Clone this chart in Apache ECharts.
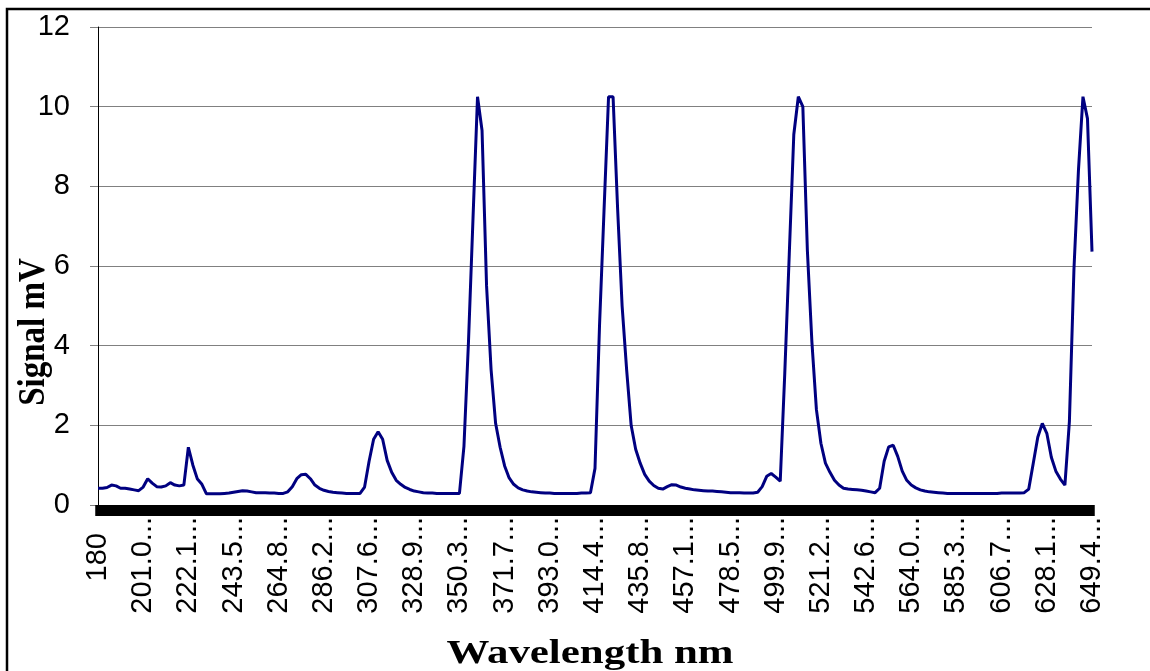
<!DOCTYPE html>
<html>
<head>
<meta charset="utf-8">
<script src="https://cdn.jsdelivr.net/npm/echarts@6/dist/echarts.min.js"></script>
<style>
html,body{margin:0;padding:0;background:#fff;}
#chart{width:1150px;height:671px;}
</style>
</head>
<body>
<div id="chart"></div>
<script>
// Tick labels shown every 10th sample along the wavelength axis (nm)
var tickLabels = ["180","201.0","222.1","243.5","264.8","286.2","307.6","328.9","350.3","371.7","393.0","414.4","435.8","457.1","478.5","499.9","521.2","542.6","564.0","585.3","606.7","628.1","649.4"];
var samplesPerLabel = 10;

// Signal (mV), one value per sample
var signal = [
0.42,0.42,0.44,0.50,0.48,0.42,0.42,0.40,0.38,0.36,
0.45,0.66,0.55,0.46,0.45,0.48,0.56,0.50,0.48,0.50,
1.45,1.00,0.65,0.52,0.28,0.28,0.28,0.28,0.29,0.30,
0.32,0.34,0.36,0.35,0.33,0.31,0.31,0.31,0.30,0.30,
0.29,0.29,0.33,0.46,0.66,0.76,0.77,0.66,0.50,0.42,
0.37,0.34,0.32,0.31,0.30,0.29,0.29,0.29,0.29,0.45,
1.10,1.65,1.84,1.65,1.12,0.82,0.62,0.52,0.44,0.39,
0.35,0.33,0.31,0.30,0.30,0.29,0.29,0.29,0.29,0.29,
0.29,1.48,4.10,7.20,10.25,9.40,5.50,3.40,2.05,1.45,
0.98,0.68,0.52,0.43,0.38,0.35,0.33,0.32,0.31,0.30,
0.30,0.29,0.29,0.29,0.29,0.29,0.29,0.30,0.30,0.31,
0.92,4.50,7.40,10.25,10.25,7.45,5.00,3.40,2.00,1.40,
1.05,0.77,0.60,0.49,0.42,0.40,0.46,0.51,0.50,0.45,
0.42,0.40,0.38,0.37,0.36,0.35,0.35,0.34,0.33,0.32,
0.31,0.31,0.31,0.30,0.30,0.30,0.32,0.46,0.72,0.79,
0.70,0.60,3.30,6.30,9.30,10.25,10.00,6.40,4.10,2.40,
1.55,1.05,0.82,0.62,0.50,0.42,0.40,0.39,0.38,0.37,
0.35,0.33,0.31,0.42,1.10,1.46,1.50,1.22,0.85,0.62,
0.50,0.43,0.38,0.35,0.33,0.32,0.31,0.30,0.29,0.29,
0.29,0.29,0.29,0.29,0.29,0.29,0.29,0.29,0.29,0.29,
0.30,0.30,0.30,0.30,0.30,0.31,0.40,1.05,1.70,2.05,
1.80,1.20,0.85,0.65,0.50,2.10,5.90,8.40,10.25,9.70,
6.36
];

var yTicks = [0, 2, 4, 6, 8, 10, 12];

var categories = signal.map(function (v, i) { return String(i); });

var chart = echarts.init(document.getElementById('chart'), null, {renderer: 'canvas'});
chart.setOption({
  animation: false,
  backgroundColor: '#ffffff',
  grid: {left: 98, right: 58, top: 27, bottom: 166, containLabel: false},
  xAxis: {
    type: 'category',
    data: categories,
    boundaryGap: false,
    axisLine: {show: true, lineStyle: {color: '#000', width: 1}},
    axisTick: {show: true, interval: 0, inside: false, length: 11, lineStyle: {color: '#000', width: 5.5}},
    axisLabel: {
      interval: samplesPerLabel - 1,
      rotate: 90,
      margin: 12,
      fontFamily: 'Liberation Sans, Arial, sans-serif',
      fontSize: 29,
      color: '#000',
      formatter: function (v, idx) {
        var k = Math.round(idx / samplesPerLabel);
        var t = tickLabels[k];
        return k === 0 ? t + '\u00a0\u00a0' : t + '...';
      }
    },
    splitLine: {show: false}
  },
  yAxis: {
    type: 'value',
    min: yTicks[0],
    max: yTicks[yTicks.length - 1],
    interval: 2,
    axisLine: {show: true, lineStyle: {color: '#000', width: 1}},
    axisTick: {show: true, length: 8, lineStyle: {color: '#808080', width: 1}},
    axisLabel: {margin: 28, fontFamily: 'Liberation Sans, Arial, sans-serif', fontSize: 29, color: '#000'},
    splitLine: {show: true, lineStyle: {color: '#808080', width: 1}}
  },
  series: [{
    type: 'line',
    data: signal,
    showSymbol: false,
    symbol: 'none',
    lineStyle: {color: '#000080', width: 3},
    z: 3
  }],
  graphic: [
    {type: 'rect', shape: {x: 7, y: 9, width: 1300, height: 800}, style: {fill: 'none', stroke: '#000', lineWidth: 2.5}, z: 10, silent: true},
    {type: 'text', x: 34, y: 332, rotation: Math.PI / 2, scaleY: 1.15,
     style: {text: 'Signal mV', font: 'bold 33px "Liberation Serif", "Times New Roman", serif', fill: '#000', textAlign: 'center', textVerticalAlign: 'middle'}},
    {type: 'text', x: 590, y: 654, scaleX: 1.3,
     style: {text: 'Wavelength nm', font: 'bold 33px "Liberation Serif", "Times New Roman", serif', fill: '#000', textAlign: 'center', textVerticalAlign: 'middle'}}
  ]
});
</script>
</body>
</html>
